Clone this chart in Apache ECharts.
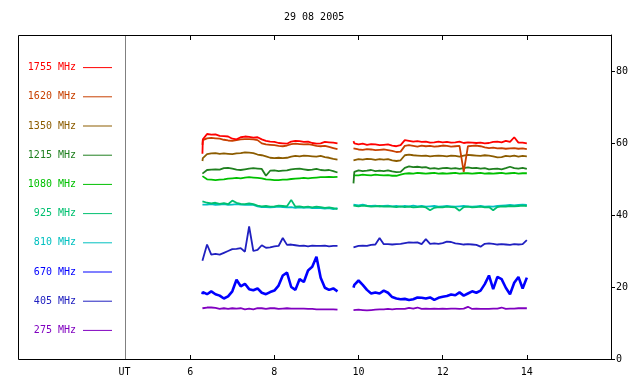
<!DOCTYPE html>
<html>
<head>
<meta charset="utf-8">
<title>29 08 2005</title>
<script src="https://cdn.jsdelivr.net/npm/echarts@6/dist/echarts.min.js"></script>
<style>
  html, body { margin: 0; padding: 0; background: #fff; }
  #chart { width: 640px; height: 384px; }
</style>
</head>
<body>
<div id="chart"></div>
<script>
// time in UT hours, 9.7 is the gap between the two observing runs
const hours = [
  6.29, 6.3, 6.4, 6.5, 6.6, 6.7, 6.8, 6.9, 7.0, 7.1,
  7.2, 7.3, 7.4, 7.5, 7.6, 7.7, 7.8, 7.9, 8.0, 8.1,
  8.2, 8.3, 8.4, 8.5, 8.6, 8.7, 8.8, 8.9, 9.0, 9.1,
  9.2, 9.3, 9.4, 9.5,
  9.7,
  9.88, 9.9, 10.0, 10.1, 10.2, 10.3, 10.4, 10.5, 10.6, 10.7,
  10.8, 10.9, 11.0, 11.1, 11.2, 11.3, 11.4, 11.5, 11.6, 11.7,
  11.8, 11.9, 12.0, 12.1, 12.2, 12.3, 12.4, 12.5, 12.6, 12.7,
  12.8, 12.9, 13.0, 13.1, 13.2, 13.3, 13.4, 13.5, 13.6, 13.7,
  13.8, 13.9, 14.0
]

const f1755 = [
  57.0, 61.0, 62.5, 62.3, 62.4, 62.0, 61.9, 61.8, 61.2, 61.0,
  61.6, 61.8, 61.7, 61.5, 61.6, 61.0, 60.6, 60.4, 60.3, 60.0,
  59.9, 59.8, 60.4, 60.6, 60.5, 60.3, 60.4, 60.0, 59.8, 59.9,
  60.3, 60.2, 60.1, 59.9,
  null,
  60.5, 59.9, 59.6, 59.8, 59.5, 59.7, 59.6, 59.4, 59.5, 59.6,
  59.3, 59.1, 59.4, 60.8, 60.6, 60.4, 60.5, 60.3, 60.4, 60.1,
  60.2, 60.4, 60.2, 60.3, 60.1, 60.2, 60.4, 60.0, 60.2, 60.1,
  60.0, 60.1, 59.9, 60.0, 60.3, 60.4, 60.2, 60.6, 60.3, 61.6,
  60.1, 60.1, 59.9
]
const f1620 = [
  59.5, 60.8, 61.3, 61.4, 61.3, 61.2, 60.9, 60.7, 60.6, 60.8,
  61.0, 61.1, 61.1, 61.0, 60.8, 59.9, 59.6, 59.5, 59.4, 59.2,
  59.1, 59.3, 59.7, 59.8, 59.7, 59.6, 59.7, 59.5, 59.2, 59.1,
  59.2, 58.9, 58.6, 58.3,
  null,
  58.5, 58.3, 58.2, 58.1, 58.3, 58.2, 58.0, 58.1, 58.2, 58.0,
  57.8, 57.5, 57.6, 59.2, 59.4, 59.2, 59.0, 59.3, 59.1, 59.2,
  59.0, 59.1, 59.3, 59.2, 59.0, 59.1, 59.2, 52.0, 59.1, 59.2,
  59.3, 59.1, 58.8, 58.6, 58.7, 58.5, 58.6, 58.4, 58.5, 58.6,
  58.4, 58.5, 58.3
]
const f1350 = [
  55.0, 55.8, 56.9, 57.1, 57.2, 57.0, 57.1, 57.0, 56.9, 57.1,
  57.2, 57.4, 57.3, 57.2, 56.8, 56.6, 56.3, 55.9, 55.8, 55.9,
  55.8, 55.9, 56.2, 56.4, 56.3, 56.5, 56.4, 56.3, 56.2, 56.4,
  56.1, 55.9, 55.6, 55.4,
  null,
  55.2, 55.6, 55.5, 55.4, 55.6, 55.5, 55.3, 55.5, 55.4, 55.5,
  55.2, 55.0, 55.2, 56.6, 56.8, 56.6, 56.5, 56.4, 56.5, 56.3,
  56.4, 56.5, 56.4, 56.3, 56.5, 56.4, 56.2, 56.5, 56.7, 56.6,
  56.5, 56.4, 56.6, 56.5, 56.3, 56.0, 56.1, 56.4, 56.3, 56.5,
  56.2, 56.4, 56.3
]
const f1215 = [
  51.5, 51.8, 52.5, 52.6, 52.7, 52.6, 53.0, 53.1, 52.9, 52.6,
  52.5, 52.7, 52.9, 53.0, 52.9, 52.8, 50.9, 52.3, 52.4, 52.2,
  52.3, 52.4, 52.7, 52.8, 52.9, 52.7, 52.5, 52.6, 52.8, 52.5,
  52.4, 52.5, 52.2, 51.8,
  null,
  48.8, 52.0, 52.4, 52.2, 52.3, 52.5, 52.2, 52.3, 52.2, 52.4,
  52.1, 51.9, 52.0, 53.1, 53.5, 53.3, 53.4, 53.2, 53.3, 52.9,
  53.0, 52.8, 53.0, 53.1, 52.9, 53.0, 52.8, 53.0, 53.2, 53.0,
  53.1, 52.9, 53.0, 52.7, 52.8, 52.9, 52.7, 53.0, 53.4, 53.0,
  52.9, 53.1, 52.8
]
const f1080 = [
  50.8, 50.4, 49.9, 49.8, 49.7, 49.8, 49.9, 50.1, 50.2, 50.3,
  50.2, 50.4, 50.5, 50.4, 50.3, 50.2, 49.9, 49.8, 49.7, 49.7,
  49.8, 49.8, 50.0, 50.1, 50.2, 50.3, 50.2, 50.3, 50.4, 50.5,
  50.5, 50.6, 50.5, 50.6,
  null,
  51.0, 51.1, 51.0, 51.2, 51.1, 51.0, 51.2, 51.1, 51.0, 51.1,
  50.9, 50.9, 51.2, 51.5, 51.6, 51.5, 51.7, 51.6, 51.5, 51.6,
  51.7, 51.5, 51.6, 51.5, 51.6, 51.7, 51.5, 51.6, 51.6, 51.5,
  51.6, 51.7, 51.5, 51.6, 51.5, 51.6, 51.7, 51.5, 51.6, 51.7,
  51.5, 51.6, 51.6
]
const f925 = [
  43.8, 43.6, 43.4, 43.2, 43.4, 43.1, 43.3, 43.0, 44.0, 43.4,
  43.1, 43.0, 43.2, 43.0, 42.6, 42.4, 42.5, 42.3, 42.4, 42.6,
  42.5, 42.4, 44.2, 42.3, 42.4, 42.2, 42.3, 42.1, 42.3, 42.2,
  42.0, 42.1, 41.9, 41.6,
  null,
  42.6, 42.5, 42.4, 42.6, 42.5, 42.3, 42.4, 42.5, 42.3, 42.4,
  42.3, 42.2, 42.4, 42.2, 42.3, 42.1, 42.2, 42.3, 42.1, 41.3,
  42.0, 42.2, 42.1, 42.3, 42.2, 42.1, 41.2, 42.2, 42.3, 42.1,
  42.2, 42.3, 42.1, 42.2, 41.3, 42.2, 42.4, 42.3, 42.5, 42.4,
  42.5, 42.6, 42.5
]
const f810 = [
  42.9, 42.8, 42.9, 43.0, 42.8, 42.9, 43.0, 42.8, 42.9, 43.0,
  42.9, 42.8, 42.9, 42.8, 42.4, 42.2, 42.2, 42.1, 42.2, 42.3,
  42.2, 42.1, 42.2, 42.0, 42.1, 42.0, 42.1, 41.9, 42.0, 41.9,
  41.8, 41.9, 41.6, 41.9,
  null,
  42.9, 42.8, 42.7, 42.9, 42.6, 42.5, 42.6, 42.4, 42.5, 42.6,
  42.4, 42.5, 42.3, 42.5, 42.4, 42.6, 42.4, 42.5, 42.3, 42.4,
  42.5, 42.3, 42.4, 42.5, 42.4, 42.3, 42.4, 42.5, 42.4, 42.3,
  42.4, 42.5, 42.3, 42.4, 42.3, 42.5, 42.6, 42.7, 42.8, 42.7,
  42.8, 42.9, 42.8
]
const f670 = [
  18.0, 18.6, 18.0, 18.8, 18.0, 17.6, 16.8, 17.4, 18.8, 22.0,
  20.2, 20.9, 19.4, 19.1, 19.6, 18.4, 18.0, 18.6, 19.0, 20.4,
  23.2, 24.0, 20.0, 19.2, 22.2, 21.4, 24.6, 25.6, 28.4, 22.6,
  19.8, 19.2, 19.6, 18.8,
  null,
  19.8, 20.6, 21.8, 20.6, 19.2, 18.2, 18.5, 18.2, 19.0, 18.4,
  17.2, 16.8, 16.6, 16.7, 16.4, 16.6, 17.1, 17.0, 16.8, 17.1,
  16.4, 17.0, 17.3, 17.5, 17.9, 17.7, 18.5, 17.6, 18.2, 18.8,
  18.4, 19.0, 20.8, 23.2, 19.4, 22.8, 22.2, 19.8, 18.0, 21.2,
  22.8, 19.6, 22.6
]
const f405 = [
  27.3, 27.8, 31.8, 29.0, 29.2, 29.0, 29.5, 30.0, 30.5, 30.6,
  30.8, 29.8, 36.8, 30.0, 30.3, 31.6, 30.9, 31.0, 31.3, 31.4,
  33.6, 31.7, 31.8, 31.6, 31.4, 31.5, 31.3, 31.5, 31.4, 31.4,
  31.5, 31.3, 31.4, 31.4,
  null,
  31.0, 31.3, 31.4, 31.5, 31.4, 31.7, 31.8, 33.6, 31.9, 31.9,
  31.8, 31.9, 32.0, 32.2, 32.4, 32.3, 32.4, 31.9, 33.3, 32.0,
  32.1, 32.0, 32.2, 32.6, 32.5, 32.1, 32.0, 31.8, 31.9, 31.8,
  31.7, 31.2, 32.0, 32.1, 32.0, 31.8, 31.9, 31.8, 31.7, 31.9,
  31.8, 31.9, 33.0
]
const f275 = [
  14.1, 14.1, 14.3, 14.3, 14.2, 13.9, 14.1, 13.9, 14.1, 14.0,
  14.1, 13.8, 14.0, 13.8, 14.1, 14.1, 13.9, 14.1, 14.1, 13.9,
  14.0, 14.1, 14.0, 14.0, 14.0, 14.0, 13.9, 13.9, 13.8, 13.8,
  13.8, 13.8, 13.8, 13.7,
  null,
  13.6, 13.6, 13.7, 13.6, 13.5, 13.6, 13.7, 13.8, 13.8, 13.9,
  13.8, 13.9, 13.9, 13.9, 14.2, 14.0, 14.3, 13.9, 14.0, 13.9,
  14.0, 13.9, 14.0, 13.9, 14.0, 14.0, 13.9, 14.0, 14.5, 13.9,
  14.0, 13.9, 13.9, 13.9, 14.0, 14.0, 14.3, 13.9, 14.0, 14.0,
  14.1, 14.1, 14.1
]

const names = ['1755 MHz', '1620 MHz', '1350 MHz', '1215 MHz', '1080 MHz',
  '925 MHz', '810 MHz', '670 MHz', '405 MHz', '275 MHz']
const values = [f1755, f1620, f1350, f1215, f1080, f925, f810, f670, f405, f275]
const colors = ['#ff0000', '#c84000', '#8c5c00', '#208020', '#00c000',
  '#00c070', '#00c0c0', '#0000ff', '#2020c0', '#8000c0']
const xTicks = [6, 8, 10, 12, 14]
const yTicks = [0, 20, 40, 60, 80]

const font = 'DejaVu Sans Mono'
const black = '#000'

const toPairs = vals => hours.map((h, i) => [h, vals[i]])

// lowest frequency first so that 1755 MHz ends up on top
const series = names.map((name, i) => ({
  type: 'line',
  name,
  data: toPairs(values[i]),
  showSymbol: false,
  symbol: 'none',
  connectNulls: false,
  z: 20 - i,
  lineStyle: { width: name === '670 MHz' ? 2.6 : 1.8, color: colors[i] },
  itemStyle: { color: colors[i] }
})).reverse()

const chart = echarts.init(document.getElementById('chart'), null, { width: 640, height: 384 })
chart.setOption({
  animation: false,
  backgroundColor: '#fff',
  textStyle: { fontFamily: font },
  title: {
    text: '29 08 2005',
    left: 284,
    top: 12,
    padding: 0,
    textStyle: { fontFamily: font, fontSize: 10, fontWeight: 'normal', color: black }
  },
  legend: {
    orient: 'vertical',
    right: 528,
    top: 53,
    padding: 0,
    itemGap: 0,
    itemWidth: 29,
    itemHeight: 1,
    icon: 'rect',
    align: 'right',
    selectedMode: false,
    textStyle: { fontFamily: font, fontSize: 10, lineHeight: 29.2, padding: [0, 2, 0, 0] },
    data: names.map((name, i) => ({ name, textStyle: { color: colors[i] } }))
  },
  grid: { left: 125, right: 29, top: 35, bottom: 25 },
  xAxis: [{
    type: 'value',
    min: 4.45,
    max: 16,
    position: 'bottom',
    axisLine: { show: true, lineStyle: { color: black } },
    axisTick: { show: true, inside: true, length: 4, customValues: xTicks, lineStyle: { color: black } },
    axisLabel: { customValues: xTicks, margin: 8, fontFamily: font, fontSize: 10, color: black },
    splitLine: { show: false }
  }, {
    type: 'value',
    min: 4.45,
    max: 16,
    position: 'top',
    axisLine: { show: true, lineStyle: { color: black } },
    axisTick: { show: true, inside: true, length: 5, customValues: xTicks, lineStyle: { color: black } },
    axisLabel: { show: false },
    splitLine: { show: false }
  }],
  yAxis: {
    type: 'value',
    min: 0,
    max: 90,
    position: 'right',
    axisLine: { show: true, lineStyle: { color: black } },
    axisTick: { show: true, inside: false, length: 4, customValues: yTicks, lineStyle: { color: black } },
    axisLabel: { customValues: yTicks, margin: 5, fontFamily: font, fontSize: 10, color: black },
    splitLine: { show: false }
  },
  graphic: [
    // outer frame around legend panel and plot
    { type: 'rect', silent: true, shape: { x: 18.5, y: 35.5, width: 593, height: 324 },
      style: { fill: null, stroke: black, lineWidth: 1 } },
    // divider between legend and plot
    { type: 'line', silent: true, shape: { x1: 125.5, y1: 35.5, x2: 125.5, y2: 359.5 },
      style: { stroke: '#808080', lineWidth: 1 } },
    { type: 'text', silent: true, x: 124.5, y: 372,
      style: { text: 'UT', font: '10px "DejaVu Sans Mono"', fill: black, align: 'center', verticalAlign: 'middle' } }
  ],
  series
})
</script>
</body>
</html>
